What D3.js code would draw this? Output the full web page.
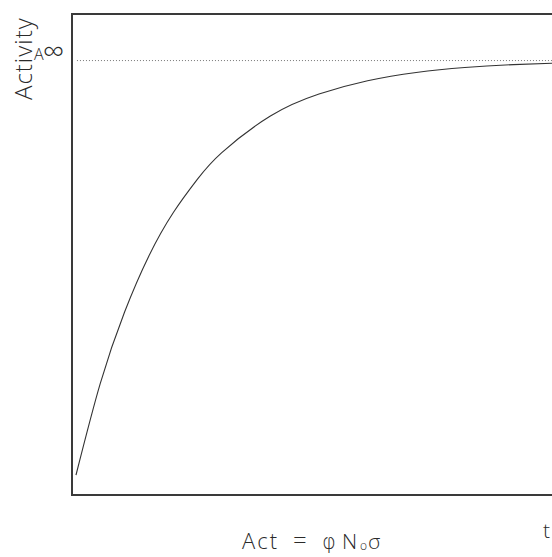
<!DOCTYPE html>
<html>
<head>
<meta charset="utf-8">
<script src="https://cdn.jsdelivr.net/npm/d3@7"></script>
<style>
  html, body { margin: 0; padding: 0; background: #fff; }
  svg { display: block; }
  text { font-family: "Open Sans", "DejaVu Sans", sans-serif; font-weight: 300; fill: #2a2a2a; }
</style>
</head>
<body>
<div id="chart"></div>
<script>
// Time in units of the growth time constant
const times = [0, 0.25, 0.5, 0.75, 1, 1.25, 1.5, 2, 2.5, 3, 3.5, 4, 4.5, 5];
// Activity as a fraction of the saturation activity A∞
const activity = [0, 0.221, 0.393, 0.528, 0.632, 0.713, 0.777, 0.865, 0.918, 0.950, 0.970, 0.982, 0.989, 0.993];
// Saturation level
const saturation = [1];

const W = 552, H = 557;
const frame = { left: 72, top: 14, bottom: 495, right: 562 };

const svg = d3.select("#chart").append("svg")
  .attr("width", W).attr("height", H);

const x = d3.scaleLinear().domain([-0.041, 5]).range([frame.left, frame.right]);
const y = d3.scaleLinear().domain([-0.048, 1.111]).range([frame.bottom, frame.top]);

// plot frame
svg.append("rect")
  .attr("x", x.range()[0]).attr("y", y.range()[1])
  .attr("width", x.range()[1] - x.range()[0])
  .attr("height", y.range()[0] - y.range()[1])
  .attr("fill", "none").attr("stroke", "#3a3a3a").attr("stroke-width", 1.1)
  .attr("shape-rendering", "crispEdges");

// saturation level A∞
svg.selectAll("line.sat").data(saturation).enter().append("line")
  .attr("class", "sat")
  .attr("x1", x(0.01)).attr("x2", W)
  .attr("y1", d => y(d) + 0.5).attr("y2", d => y(d) + 0.5)
  .attr("stroke", "#777").attr("stroke-width", 1)
  .attr("stroke-dasharray", "1,2");

// activity growth curve
const pts = times.map((t, i) => [t, activity[i]]);
svg.append("path")
  .datum(pts)
  .attr("fill", "none").attr("stroke", "#333").attr("stroke-width", 1.1)
  .attr("d", d3.line().x(d => x(d[0])).y(d => y(d[1])).curve(d3.curveNatural));

// y axis title
svg.append("text")
  .attr("transform", "translate(32,100) rotate(-90)")
  .attr("font-size", 24).attr("letter-spacing", 1)
  .text("Activity");

// A∞ label
svg.append("text").attr("x", 34).attr("y", 60).attr("font-size", 16).text("A");
svg.append("text").attr("x", 43).attr("y", 62).attr("font-size", 30).text("∞");

// formula under the axis
const g = svg.append("g").attr("font-size", 21);
const base = 549;
g.append("text").attr("x", 242).attr("y", base).attr("font-size", 22).attr("letter-spacing", 2).text("Act");
g.append("text").attr("x", 293).attr("y", base).attr("font-size", 24).text("=");
g.append("text").attr("x", 322).attr("y", base)
  .style("font-family", "'DejaVu Sans', sans-serif").style("font-weight", 200).text("φ");
g.append("text").attr("x", 342).attr("y", base).text("N");
g.append("text").attr("x", 360).attr("y", base + 1).attr("font-size", 12).text("o");
g.append("text").attr("x", 368).attr("y", base).text("σ");

// time axis label
svg.append("text").attr("x", 543).attr("y", 538).attr("font-size", 21).text("t");
</script>
</body>
</html>
